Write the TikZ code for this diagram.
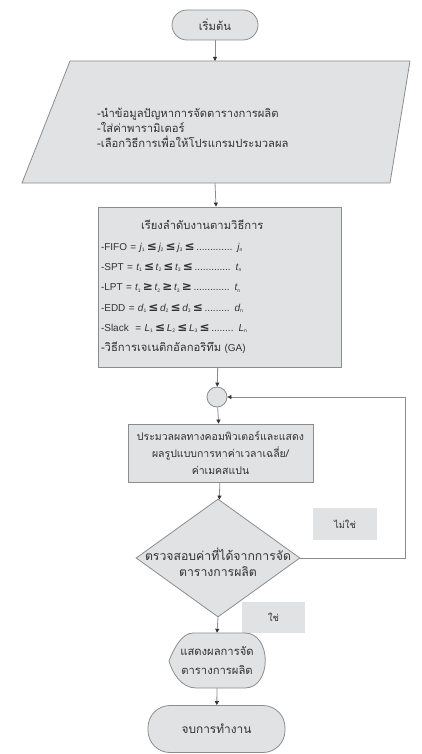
\documentclass[tikz,border=0pt]{standalone}
\usepackage{fontspec}
\setmainfont{Liberation Sans}
\newfontfamily\thai[Script=Thai,Scale=1.25]{Loma}
\newfontfamily\symfont{DejaVu Sans}
\usetikzlibrary{arrows.meta,shapes.geometric}

\definecolor{boxfill}{RGB}{224,226,228}
\definecolor{boxline}{RGB}{140,140,140}
\definecolor{txt}{RGB}{50,50,50}

\newcommand{\lte}{\,{\symfont\bfseries\large ≤}\,}
\newcommand{\gte}{\,{\symfont\bfseries\large ≥}\,}
\newcommand{\seqv}[2]{{\itshape #1}\textsubscript{\tiny #2}}
\newcommand{\thaiin}{\fontsize{9}{20.3}\selectfont\thai}

\tikzset{
  base/.style={draw=boxline, fill=boxfill, line width=0.8pt, text=txt,
    font=\fontsize{9}{16}\selectfont\thai},
  terminal/.style={base, rounded corners=15pt, inner sep=0pt},
  procbox/.style={base, rectangle, inner sep=3pt},
  decision/.style={base, diamond, inner sep=0pt},
  tag/.style={fill=boxfill, text=txt, inner sep=0pt,
    font=\fontsize{7.5}{11}\selectfont\thai},
  link/.style={draw=boxline, line width=0.8pt,
    -{Triangle[length=4pt,width=4pt,fill=black!80,color=black!80]}},
}

\begin{document}
\begin{tikzpicture}[x=1pt, y=-1pt]
\useasboundingbox (0,0) rectangle (422,754);

% start
\node[terminal, minimum width=86pt, minimum height=30pt] (start) at (215,25) {เริ่มต้น};

% input data (parallelogram)
\draw[base] (70,61) -- (410,61) -- (390,183) -- (22,183) -- cycle;
\coordinate (intop) at (215,61);
\coordinate (inbot) at (215,183);
\node[text=txt, anchor=west, align=left, inner sep=0pt,
  font=\fontsize{9}{15}\selectfont\thai] (intext) at (97,128)
  {-นำข้อมูลปัญหาการจัดตารางการผลิต\\
   -ใส่ค่าพารามิเตอร์\\
   -เลือกวิธีการเพื่อให้โปรแกรมประมวลผล};

% sorting rules
\node[procbox, minimum width=243pt, minimum height=160pt, text width=237pt,
  align=left, font=\fontsize{10}{20.3}\selectfont] (sort) at (219.5,287)
  {\hspace*{40pt}{\thaiin เรียงลำดับงานตามวิธีการ}\\
   -FIFO = \seqv{j}{1}\lte\seqv{j}{2}\lte\seqv{j}{3}\lte ............. \seqv{j}{n}\\
   -SPT = \seqv{t}{1}\lte\seqv{t}{2}\lte\seqv{t}{3}\lte............. \seqv{t}{n}\\
   -LPT = \seqv{t}{1}\gte\seqv{t}{2}\gte\seqv{t}{3}\gte............. \seqv{t}{n}\\
   -EDD = \seqv{d}{1}\lte\seqv{d}{2}\lte\seqv{d}{3}\lte ......... \seqv{d}{n}\\
   -Slack \ = \seqv{L}{1}\lte\seqv{L}{2}\lte\seqv{L}{3}\lte ........ \seqv{L}{n}\\
   {\thaiin -วิธีการเจเนติกอัลกอริทึม} (GA)};

% junction
\node[base, circle, minimum size=20pt, inner sep=0pt] (junc) at (217,397) {};

% computation
\node[procbox, minimum width=185pt, minimum height=58pt, align=center,
  font=\fontsize{8.4}{17}\selectfont\thai] (calc) at (220.5,453)
  {ประมวลผลทางคอมพิวเตอร์และแสดง\\ผลรูปแบบการหาค่าเวลาเฉลี่ย/\\ค่าเมคสแปน};

% check
\node[decision, minimum width=164pt, minimum height=118pt] (check) at (218,558) {};
\node[text=txt, align=center, inner sep=0pt,
  font=\fontsize{9.8}{16}\selectfont\thai] (checktext) at (218,562)
  {ตรวจสอบค่าที่ได้จากการจัด\\ตารางการผลิต};
\coordinate (loopc) at (405,558);

% answer tags
\node[tag, minimum width=64pt, minimum height=32pt] (no) at (345,524) {ไม่ใช่};
\node[tag, minimum width=63pt, minimum height=31pt] (yes) at (273.5,617.5) {ใช่};

% display result
\draw[base] (193,633) -- (245,633) .. controls (272,633) and (272,688) .. (245,688)
  -- (196,688) .. controls (181,688) and (172,672) .. (169,661)
  .. controls (174,648) and (182,633) .. (193,633);
\node[text=txt, align=center, inner sep=0pt, minimum height=55pt,
  font=\fontsize{9}{19}\selectfont\thai] (show) at (217,660.5)
  {แสดงผลการจัด\\ตารางการผลิต};

% end
\node[terminal, rounded corners=22pt, minimum width=137pt, minimum height=47pt,
  font=\fontsize{9.5}{12}\selectfont\thai] (end) at (216.5,729) {จบการทำงาน};

% connectors
\draw[link] (start) -- (intop);
\draw[link] (inbot) -- (sort);
\draw[link] (sort) -- (junc);
\draw[link] (junc) -- (calc);
\draw[link] (calc) -- (check);
\draw[link] (check.east) -- (loopc) |- (junc.east);
\draw[link] (check.south) -- (show.north);
\draw[link] (show.south) -- (end);
\end{tikzpicture}
\end{document}
